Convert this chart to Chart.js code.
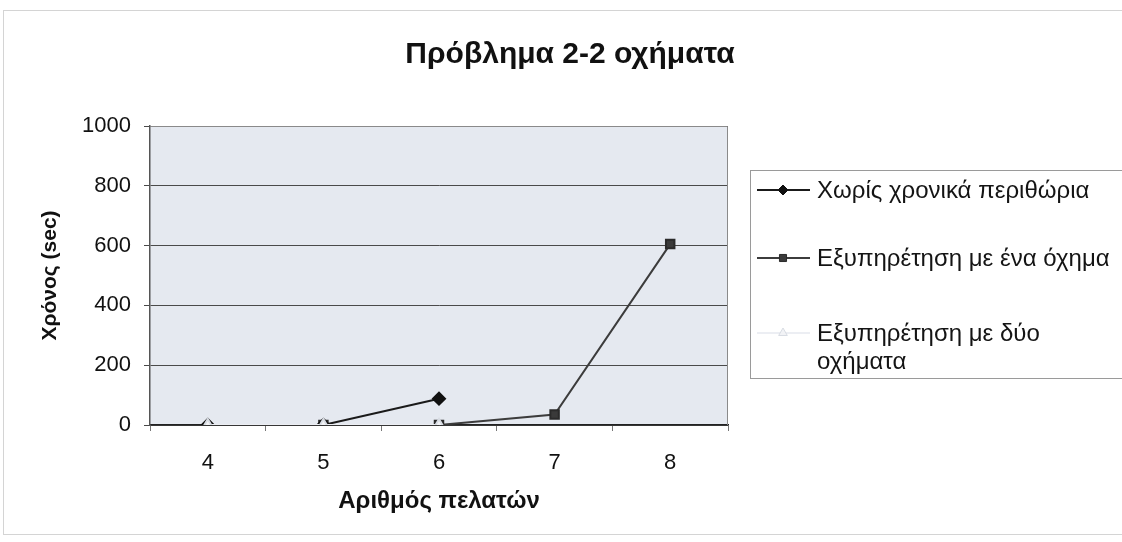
<!DOCTYPE html>
<html>
<head>
<meta charset="utf-8">
<script src="https://cdn.jsdelivr.net/npm/chart.js@4.4.1/dist/chart.umd.min.js"></script>
<style>
  html, body { margin: 0; padding: 0; background: #ffffff; }
  #wrap { width: 1122px; height: 542px; position: relative; }
</style>
</head>
<body>
<div id="wrap"><canvas id="c" width="1122" height="542"></canvas></div>
<script>
// Number of customers on the x axis
const customers = ['4', '5', '6', '7', '8'];
// Solve times in seconds for each configuration
const noTimeWindows = [0, 0, 88, null, null];
const oneVehicle = [null, 0, 0, 35, 605];
const twoVehicles = [0, 0, 0, null, null];
// Y axis ticks
const yTicks = [0, 200, 400, 600, 800, 1000];
// Chart title and legend text, as laid out in the legend box
const chartTitle = 'Πρόβλημα 2-2 οχήματα';
const legendLines = [
  ['Χωρίς χρονικά περιθώρια'],
  ['Εξυπηρέτηση με ένα όχημα'],
  ['Εξυπηρέτηση με δύο', 'οχήματα']
];

const FONT = '"Liberation Sans", Arial, sans-serif';

// Plot background, outer frame and title
const framePlugin = {
  id: 'frame',
  beforeDraw(chart) {
    const { ctx, chartArea: a } = chart;
    ctx.save();
    ctx.fillStyle = '#ffffff';
    ctx.fillRect(0, 0, chart.width, chart.height);
    ctx.strokeStyle = '#d4d4d4';
    ctx.lineWidth = 1;
    ctx.strokeRect(3.5, 10.5, chart.width + 10, chart.height - 18);
    ctx.fillStyle = '#e5e9f0';
    ctx.fillRect(a.left, a.top, a.right - a.left, a.bottom - a.top);
    ctx.fillStyle = '#111111';
    ctx.font = 'bold 30px ' + FONT;
    ctx.textAlign = 'center';
    ctx.textBaseline = 'alphabetic';
    ctx.fillText(chartTitle, 570, 63);
    ctx.restore();
  },
  afterDatasetsDraw(chart) {
    const { ctx, chartArea: a } = chart;
    ctx.save();
    ctx.strokeStyle = '#8a8a8a';
    ctx.lineWidth = 1;
    ctx.beginPath();
    ctx.moveTo(a.left + 0.5, a.top + 0.5);
    ctx.lineTo(a.right - 0.5, a.top + 0.5);
    ctx.lineTo(a.right - 0.5, a.bottom);
    ctx.stroke();
    ctx.restore();
  }
};

// Boxed legend on the right, with wrapped text
const boxLegend = {
  id: 'boxLegend',
  afterDraw(chart) {
    const { ctx } = chart;
    const x0 = 750, y0 = 170, h = 208;
    ctx.save();
    ctx.strokeStyle = '#9a9a9a';
    ctx.lineWidth = 1;
    ctx.strokeRect(x0 + 0.5, y0 + 0.5, chart.width, h);
    const rows = [190, 258, 333];
    chart.data.datasets.forEach((ds, i) => {
      const y = rows[i];
      ctx.strokeStyle = ds.borderColor;
      ctx.lineWidth = 2;
      ctx.beginPath();
      ctx.moveTo(757, y);
      ctx.lineTo(810, y);
      ctx.stroke();
      ctx.fillStyle = ds.pointBackgroundColor;
      ctx.strokeStyle = ds.pointBorderColor;
      ctx.lineWidth = 1;
      Chart.helpers.drawPoint(ctx, {
        pointStyle: ds.pointStyle,
        radius: ds.pointRadius - 1,
        rotation: 0,
        borderWidth: 1
      }, 783, y);
      ctx.fillStyle = '#141414';
      ctx.font = '24px ' + FONT;
      ctx.textBaseline = 'middle';
      ctx.textAlign = 'left';
      legendLines[i].forEach((t, k) => ctx.fillText(t, 817, y + 1 + k * 28));
    });
    ctx.restore();
  }
};

new Chart(document.getElementById('c'), {
  type: 'line',
  data: {
    labels: customers,
    datasets: [
      {
        label: legendLines[0].join(' '),
        data: noTimeWindows,
        order: 1,
        borderColor: '#1a1a1a',
        borderWidth: 2,
        pointStyle: 'rectRot',
        pointRadius: 6,
        pointBackgroundColor: '#111111',
        pointBorderColor: '#111111'
      },
      {
        label: legendLines[1].join(' '),
        data: oneVehicle,
        order: 2,
        borderColor: '#3c3c3c',
        borderWidth: 2,
        pointStyle: 'rect',
        pointRadius: 6,
        pointBackgroundColor: '#3a3a3a',
        pointBorderColor: '#2a2a2a'
      },
      {
        label: legendLines[2].join(' '),
        data: twoVehicles,
        order: 0,
        borderColor: '#eceef3',
        borderWidth: 2,
        pointStyle: 'triangle',
        pointRadius: 6,
        pointBackgroundColor: '#f2f3f6',
        pointBorderColor: '#d8dce3'
      }
    ]
  },
  options: {
    responsive: false,
    animation: false,
    layout: { padding: { left: 0, right: 394, top: 126, bottom: 0 } },
    plugins: {
      legend: { display: false },
      tooltip: { enabled: false },
      title: { display: false }
    },
    scales: {
      x: {
        offset: true,
        afterFit(scale) { scale.height = 117; },
        grid: {
          display: true,
          offset: true,
          drawOnChartArea: false,
          drawTicks: true,
          tickLength: 6,
          color: '#777777'
        },
        border: { display: true, color: '#222222', width: 1.5 },
        ticks: {
          color: '#111111',
          font: { family: FONT, size: 22 },
          padding: 19
        },
        title: {
          display: true,
          text: 'Αριθμός πελατών',
          color: '#111111',
          font: { family: FONT, size: 24, weight: 'bold' },
          padding: { top: 0, bottom: 26 }
        }
      },
      y: {
        min: 0,
        max: 1000,
        afterFit(scale) { scale.width = 150; },
        afterBuildTicks(scale) { scale.ticks = yTicks.map(v => ({ value: v })); },
        grid: {
          color: '#4a4a4a',
          lineWidth: 1,
          tickLength: 6
        },
        border: { display: true, color: '#555555', width: 1.5 },
        ticks: {
          color: '#111111',
          font: { family: FONT, size: 22 },
          padding: 13,
          callback: v => String(v)
        },
        title: {
          display: true,
          text: 'Χρόνος (sec)',
          color: '#111111',
          font: { family: FONT, size: 21, weight: 'bold' },
          padding: { top: 38, bottom: 0 }
        }
      }
    }
  },
  plugins: [framePlugin, boxLegend]
});
</script>
</body>
</html>
